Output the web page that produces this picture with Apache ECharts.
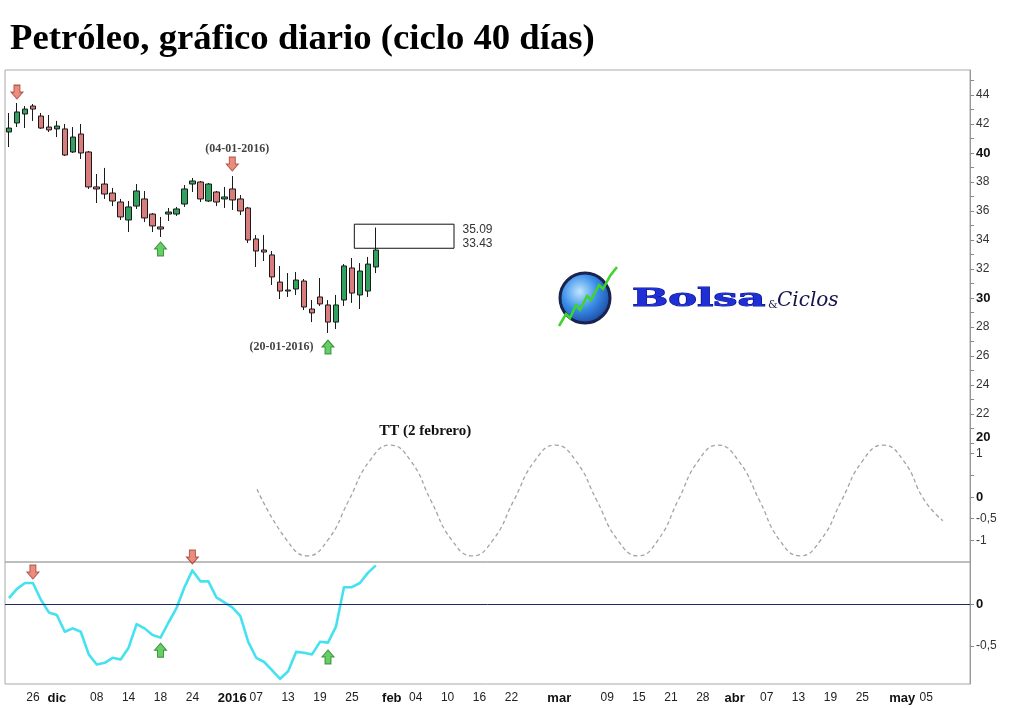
<!DOCTYPE html>
<html>
<head>
<meta charset="utf-8">
<title>Petróleo, gráfico diario</title>
<script src="https://cdn.jsdelivr.net/npm/echarts@6/dist/echarts.min.js"></script>
<style>
  html, body { margin: 0; padding: 0; background: #fff; }
  #chart { width: 1024px; height: 708px; }
</style>
</head>
<body>
<div id="chart"></div>
<script>
// sesiones: días hábiles del 23-11-2015 al 12-05-2016, sin festivos
const firstDay = '2015-11-23'
const lastDay = '2016-05-12'
const holidays = ['2015-12-25', '2016-01-01', '2016-03-25']

// etiquetas del eje de fechas
const labelDays = ['2015-11-26', '2015-12-01', '2015-12-08', '2015-12-14', '2015-12-18', '2015-12-24',
  '2016-01-04', '2016-01-07', '2016-01-13', '2016-01-19', '2016-01-25', '2016-02-01', '2016-02-04',
  '2016-02-10', '2016-02-16', '2016-02-22', '2016-03-01', '2016-03-09', '2016-03-15', '2016-03-21',
  '2016-03-28', '2016-04-01', '2016-04-07', '2016-04-13', '2016-04-19', '2016-04-25', '2016-05-02', '2016-05-05']
const labelTexts = ['26', 'dic', '08', '14', '18', '24', '2016', '07', '13', '19', '25', 'feb', '04',
  '10', '16', '22', 'mar', '09', '15', '21', '28', 'abr', '07', '13', '19', '25', 'may', '05']
const boldLabels = ['dic', '2016', 'feb', 'mar', 'abr', 'may']

// velas diarias (23-11-2015 .. 28-01-2016)
const opens  = [41.45, 42.07, 42.69, 43.24, 42.55, 41.79, 41.66, 41.66, 40.07, 41.31, 40.07, 37.66,
  37.86, 37.24, 36.62, 35.38, 36.34, 36.83, 35.79, 34.90, 35.79, 35.79, 36.48, 37.86, 38.00, 36.69,
  37.31, 36.83, 37.52, 36.83, 36.21, 34.07, 33.31, 32.97, 31.10, 30.55, 30.62, 31.17, 29.24, 30.07,
  29.52, 28.34, 29.86, 32.07, 30.21, 30.48, 32.14]
const closes = [41.72, 42.83, 43.03, 43.03, 41.72, 41.59, 41.86, 39.86, 41.10, 40.00, 37.66, 37.52,
  37.17, 36.69, 35.59, 36.28, 37.38, 35.52, 34.97, 34.76, 35.93, 36.14, 37.52, 38.07, 36.83, 37.86,
  36.62, 36.97, 36.76, 36.00, 34.00, 33.24, 33.17, 31.45, 30.48, 30.48, 31.24, 29.38, 28.97, 29.59,
  28.34, 29.52, 32.21, 30.34, 31.86, 32.34, 33.31]
const lows   = [40.41, 41.79, 41.72, 42.21, 41.66, 41.45, 41.10, 39.79, 40.00, 39.59, 37.52, 36.55,
  36.83, 36.34, 35.38, 34.55, 36.14, 35.24, 34.55, 34.21, 35.31, 35.66, 36.28, 37.31, 36.62, 36.62,
  36.34, 36.21, 36.07, 35.72, 33.79, 32.14, 32.55, 30.90, 29.93, 30.07, 30.21, 29.17, 28.34, 29.45,
  27.59, 27.86, 29.45, 29.66, 29.24, 30.07, 31.72]
const highs  = [42.76, 43.45, 43.24, 43.38, 42.76, 42.62, 42.21, 42.00, 41.79, 42.00, 40.14, 38.55,
  38.97, 37.59, 36.83, 36.69, 37.86, 37.38, 35.86, 35.59, 36.21, 36.28, 37.79, 38.28, 38.07, 37.93,
  37.38, 37.66, 38.41, 37.10, 36.28, 34.34, 34.34, 33.24, 32.21, 31.72, 31.79, 31.31, 29.86, 31.38,
  29.86, 30.21, 32.34, 32.76, 32.41, 32.83, 34.86]

// oscilador (mismas sesiones)
const oscValues = [0.07, 0.18, 0.25, 0.25, 0.05, -0.10, -0.13, -0.33, -0.29, -0.33, -0.60, -0.72,
  -0.70, -0.64, -0.66, -0.52, -0.24, -0.29, -0.37, -0.40, -0.22, -0.05, 0.20, 0.40, 0.27, 0.27,
  0.08, 0.02, -0.04, -0.14, -0.45, -0.64, -0.69, -0.79, -0.89, -0.80, -0.57, -0.58, -0.60, -0.45,
  -0.46, -0.27, 0.20, 0.20, 0.25, 0.37, 0.46]

// ciclo proyectado: [sesión, valor]
const cyclePoints = [[31.1, 0.18], [34.8, -0.99], [37.4, -1.36], [40.0, -0.99], [42.6, -0.08],
  [45.2, 0.83], [47.8, 1.20], [50.4, 0.83], [52.9, -0.08], [55.5, -0.99], [58.1, -1.36],
  [60.7, -0.99], [63.3, -0.08], [65.9, 0.83], [68.5, 1.20], [71.1, 0.83], [73.7, -0.08],
  [76.3, -0.99], [78.9, -1.36], [81.4, -0.99], [83.9, -0.08], [86.4, 0.83], [88.9, 1.20],
  [91.5, 0.83], [94.1, -0.08], [96.6, -0.99], [99.2, -1.36], [101.8, -0.99], [104.4, -0.08],
  [107.0, 0.83], [109.6, 1.20], [112.2, 0.83], [114.8, -0.08], [117.1, -0.55]]
const ttPoint = [47.8, 1.20]
const ttText = 'TT (2 febrero)'

// flechas de máximos y mínimos de ciclo: [sesión, valor]
const priceTops = [[1, 44.2], [28, 39.24]]
const priceTopNotes = ['', '(04-01-2016)']
const priceBottoms = [[19, 33.38], [40, 26.62]]
const priceBottomNotes = ['', '(20-01-2016)']
const oscTops = [[3, 0.38], [23, 0.56]]
const oscBottoms = [[19, -0.55], [40, -0.63]]

// caja de rango para la siguiente sesión
const boxFrom = 43.3
const boxTo = 55.8
const boxHigh = 35.09
const boxLow = 33.43

// marcas de los ejes verticales
const priceTicks = [20, 21, 22, 23, 24, 25, 26, 27, 28, 29, 30, 31, 32, 33, 34, 35, 36, 37, 38, 39, 40, 41, 42, 43, 44, 45]
const priceLabels = [20, 22, 24, 26, 28, 30, 32, 34, 36, 38, 40, 42, 44]
const cycleTicks = [-1, -0.5, 0, 0.5, 1]
const cycleLabels = [-1, -0.5, 0, 1]
const oscLabels = [0, -0.5]

const days = []
for (let d = new Date(firstDay + 'T00:00:00Z'); d <= new Date(lastDay + 'T00:00:00Z'); d.setUTCDate(d.getUTCDate() + 1)) {
  const s = d.toISOString().slice(0, 10)
  const wd = d.getUTCDay()
  if (wd === 0 || wd === 6 || holidays.includes(s)) continue
  days.push(s)
}

const FONT = 'Liberation Sans, Arial, sans-serif'
const SERIF = 'Liberation Serif, Times New Roman, serif'
const DOWN = 'path://M3,0 L9,0 L9,7 L12,7 L6,14 L0,7 L3,7 Z'
const UP = 'path://M6,0 L12,7 L9,7 L9,14 L3,14 L3,7 L0,7 Z'
const noteStyle = { fontFamily: SERIF, fontWeight: 'bold', fontSize: 12, color: '#111' }
const boldRich = { fontFamily: FONT, fontSize: 13, fontWeight: 'bold', color: '#111' }
const tickStyle = { show: true, length: 4, lineStyle: { color: '#888' } }

const dayLabel = (v) => {
  const k = labelDays.indexOf(v)
  if (k < 0) return ''
  const t = labelTexts[k]
  return boldLabels.includes(t) ? `{m|${t}}` : t
}
const isLabelDay = (i, v) => labelDays.includes(v)
const comma = (v) => String(v).replace('.', ',')

// el panel de precio y el del ciclo comparten el mismo rectángulo
const mainPane = { left: 5, right: 54, top: 70, height: 492 }

const chart = echarts.init(document.getElementById('chart'))

const option = {
  animation: false,
  backgroundColor: '#fff',
  title: {
    text: 'Petróleo, gráfico diario (ciclo 40 días)',
    left: 5,
    top: 16,
    textStyle: { fontFamily: SERIF, fontWeight: 'bold', fontSize: 36.7, color: '#000' }
  },
  grid: [
    { ...mainPane, show: true, borderColor: '#a8a8a8', borderWidth: 1 },
    { left: 5, right: 54, top: 562, height: 122, show: true, borderColor: '#a8a8a8', borderWidth: 1 },
    { ...mainPane, show: false }
  ],
  xAxis: [
    { type: 'category', gridIndex: 0, data: days, show: false },
    {
      type: 'category', gridIndex: 1, data: days,
      axisLine: { show: false, onZero: false },
      axisTick: { interval: isLabelDay, alignWithLabel: true, length: 4, lineStyle: { color: '#888' } },
      axisLabel: {
        interval: isLabelDay, formatter: dayLabel, margin: 8,
        fontFamily: FONT, fontSize: 12, color: '#222',
        rich: { m: boldRich }
      },
      splitLine: { show: false }
    },
    { type: 'value', gridIndex: 2, min: -0.5, max: days.length - 0.5, show: false },
    { type: 'value', gridIndex: 0, min: -0.5, max: days.length - 0.5, show: false }
  ],
  yAxis: [
    {
      type: 'value', gridIndex: 0, position: 'right', min: 11.793, max: 45.724,
      axisLine: { show: true, onZero: false, lineStyle: { color: '#999' } },
      axisTick: { ...tickStyle, customValues: priceTicks },
      axisLabel: {
        customValues: priceLabels, margin: 6, fontFamily: FONT, fontSize: 12, color: '#333',
        formatter: (v) => v === 20 ? '{c|20}' : (v % 10 === 0 ? `{b|${v}}` : String(v)),
        rich: { b: boldRich, c: { ...boldRich, padding: [0, 0, 12, 0] } }
      },
      splitLine: { show: false }
    },
    {
      type: 'value', gridIndex: 2, position: 'right', min: -1.502, max: 9.868,
      axisLine: { show: false, onZero: false },
      axisTick: { ...tickStyle, customValues: cycleTicks },
      axisLabel: {
        customValues: cycleLabels, margin: 6, fontFamily: FONT, fontSize: 12, color: '#333',
        formatter: (v) => v === 0 ? '{b|0}' : comma(v),
        rich: { b: boldRich }
      },
      splitLine: { show: false }
    },
    {
      type: 'value', gridIndex: 1, position: 'right', min: -0.952, max: 0.5,
      axisLine: { show: true, onZero: false, lineStyle: { color: '#999' } },
      axisTick: { ...tickStyle, customValues: oscLabels },
      axisLabel: {
        customValues: oscLabels, margin: 6, fontFamily: FONT, fontSize: 12, color: '#333',
        formatter: (v) => v === 0 ? '{b|0}' : comma(v),
        rich: { b: boldRich }
      },
      splitLine: { show: false }
    }
  ],
  series: [
    {
      name: 'Petróleo', type: 'candlestick', xAxisIndex: 0, yAxisIndex: 0, barWidth: 6,
      data: opens.map((o, i) => [o, closes[i], lows[i], highs[i]]),
      itemStyle: {
        color: '#32a05e', color0: '#d97c7c',
        borderColor: '#1a1a1a', borderColor0: '#1a1a1a', borderColorDoji: '#1a1a1a', borderWidth: 1
      }
    },
    {
      name: 'rango', type: 'line', xAxisIndex: 3, yAxisIndex: 0,
      data: [[boxFrom, boxHigh]], showSymbol: false, symbol: 'none', lineStyle: { opacity: 0 },
      markArea: {
        silent: true,
        itemStyle: { color: 'rgba(255,255,255,0)', borderColor: '#111', borderWidth: 1 },
        label: {
          show: true, position: 'right', distance: 8, align: 'left',
          formatter: `${boxHigh.toFixed(2)}\n${boxLow.toFixed(2)}`,
          fontFamily: FONT, fontSize: 12, lineHeight: 14, color: '#333'
        },
        data: [[{ coord: [boxFrom, boxHigh] }, { coord: [boxTo, boxLow] }]]
      }
    },
    {
      name: 'máximos', type: 'scatter', xAxisIndex: 0, yAxisIndex: 0, symbol: DOWN, symbolSize: [12, 14],
      itemStyle: { color: '#e3705e', borderColor: '#a03a2a', borderWidth: 1 },
      data: priceTops.map((p, i) => priceTopNotes[i]
        ? { value: p, label: { show: true, position: 'top', distance: 2, offset: [5, 0], formatter: priceTopNotes[i], ...noteStyle } }
        : { value: p })
    },
    {
      name: 'mínimos', type: 'scatter', xAxisIndex: 0, yAxisIndex: 0, symbol: UP, symbolSize: [12, 14],
      itemStyle: { color: '#3fc23f', borderColor: '#1f7a1f', borderWidth: 1 },
      data: priceBottoms.map((p, i) => priceBottomNotes[i]
        ? { value: p, label: { show: true, position: 'left', distance: 8, formatter: priceBottomNotes[i], ...noteStyle } }
        : { value: p })
    },
    {
      name: 'ciclo', type: 'line', xAxisIndex: 2, yAxisIndex: 1, data: cyclePoints,
      smooth: true, showSymbol: false, symbol: 'none',
      lineStyle: { color: '#a3a3a3', width: 1.3, type: [4, 3] },
      markPoint: {
        silent: true, symbol: 'circle', symbolSize: 0,
        label: {
          show: true, position: 'top', distance: 6, offset: [35, 0], formatter: ttText,
          fontFamily: SERIF, fontWeight: 'bold', fontSize: 15, color: '#111'
        },
        data: [{ coord: ttPoint }]
      }
    },
    {
      name: 'oscilador', type: 'line', xAxisIndex: 1, yAxisIndex: 2, data: oscValues,
      showSymbol: false, symbol: 'none',
      lineStyle: { color: '#44e2f0', width: 2.6, join: 'round' },
      markLine: {
        silent: true, symbol: ['none', 'none'], label: { show: false },
        lineStyle: { color: '#1c2a6b', type: 'solid', width: 1 },
        data: [{ yAxis: 0 }]
      }
    },
    {
      name: 'osc máximos', type: 'scatter', xAxisIndex: 1, yAxisIndex: 2, symbol: DOWN, symbolSize: [12, 14],
      clip: false, itemStyle: { color: '#e3705e', borderColor: '#a03a2a', borderWidth: 1 },
      data: oscTops
    },
    {
      name: 'osc mínimos', type: 'scatter', xAxisIndex: 1, yAxisIndex: 2, symbol: UP, symbolSize: [12, 14],
      clip: false, itemStyle: { color: '#3fc23f', borderColor: '#1f7a1f', borderWidth: 1 },
      data: oscBottoms
    }
  ],
  graphic: [
    {
      type: 'circle', shape: { cx: 585, cy: 298, r: 25 },
      style: {
        fill: {
          type: 'radial', x: 0.4, y: 0.38, r: 0.75,
          colorStops: [{ offset: 0, color: '#bfe6ff' }, { offset: 0.45, color: '#3a8ee8' }, { offset: 1, color: '#0e2f86' }]
        },
        stroke: '#1a2350', lineWidth: 3
      }
    },
    {
      type: 'polyline',
      shape: { points: [[559, 326], [566, 314], [570, 318], [576, 305], [580, 310], [587, 296], [591, 300], [599, 285], [603, 289], [610, 276], [617, 267]] },
      style: { stroke: '#3fd42a', lineWidth: 2.5, fill: null }
    },
    {
      type: 'text', x: 632, y: 299, scaleX: 1.72,
      style: {
        text: 'Bolsa', font: 'bold 25px "DejaVu Serif"', fill: '#1f2fd6', stroke: '#0b1490', lineWidth: 1,
        textAlign: 'left', textVerticalAlign: 'middle'
      }
    },
    {
      type: 'text', x: 768, y: 305,
      style: {
        text: '&', font: '11px "DejaVu Serif"', fill: '#15154a',
        textAlign: 'left', textVerticalAlign: 'middle'
      }
    },
    {
      type: 'text', x: 777, y: 301,
      style: {
        text: 'Ciclos', font: 'italic 20px "DejaVu Serif"', fill: '#15154a',
        textAlign: 'left', textVerticalAlign: 'middle'
      }
    }
  ]
}

chart.setOption(option)
window.addEventListener('resize', () => chart.resize())
</script>
</body>
</html>
